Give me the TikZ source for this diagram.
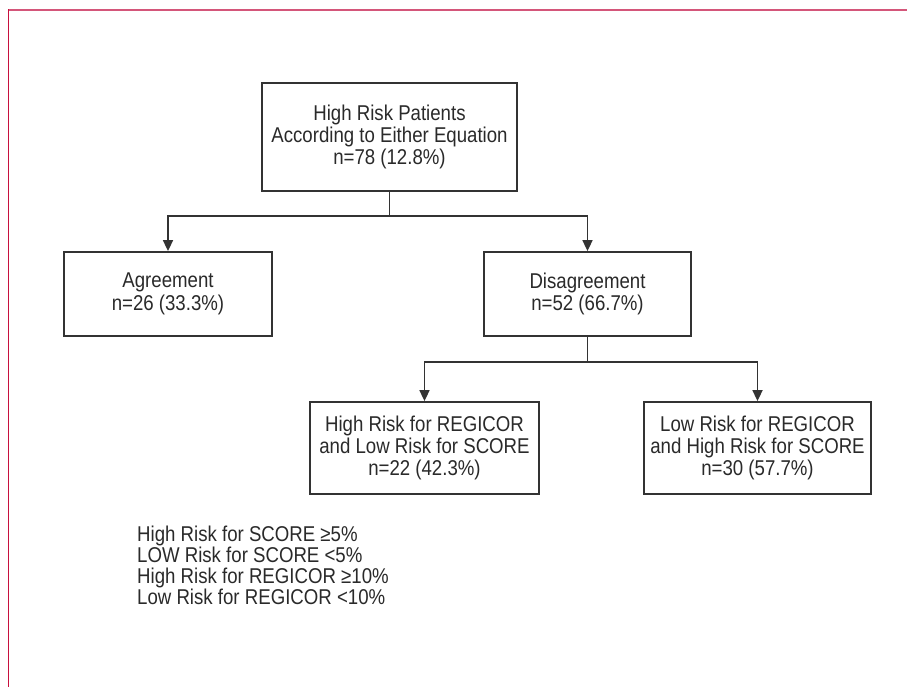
\documentclass[tikz,border=0pt]{standalone}
\usepackage{fontspec}
\setmainfont[FakeStretch=0.87]{Liberation Sans}
\usetikzlibrary{arrows.meta}
\definecolor{ink}{HTML}{2A2A2A}
\definecolor{lineink}{HTML}{333333}
\definecolor{frametop}{HTML}{D4567A}
\definecolor{frameleft}{HTML}{C8103E}
\tikzset{
  box/.style={draw=lineink, line width=1.8bp, inner sep=0pt, align=center,
    text=ink, font=\fontsize{21.5}{22.5}\selectfont},
  arr/.style={draw=lineink, line width=1.7bp, -{Triangle[length=11bp,width=10bp]}},
  legend/.style={anchor=north west, inner sep=0pt, align=left, text=ink,
    font=\fontsize{21.5}{21}\selectfont}
}
\begin{document}
\begin{tikzpicture}[x=1bp,y=-1bp]
\useasboundingbox (0,0) rectangle (907,687);
\fill[white] (0,0) rectangle (907,687);
% frame
\draw[frametop, line width=1.8bp] (8.5,10) -- (907,10);
\draw[frameleft, line width=1.8bp] (8.5,9.1) -- (8.5,687);
% nodes
\node[box, minimum width=255bp, minimum height=108bp] (top) at (389.5,137)
  {High Risk Patients\\According to Either Equation\\n=78 (12.8\%)};
\node[box, minimum width=208bp, minimum height=84bp] (agree) at (168,294)
  {Agreement\\n=26 (33.3\%)};
\node[box, minimum width=207bp, minimum height=84bp] (disagree) at (587.5,294)
  {Disagreement\\n=52 (66.7\%)};
\node[box, minimum width=229bp, minimum height=92bp] (bl) at (424.5,448)
  {High Risk for REGICOR\\and Low Risk for SCORE\\n=22 (42.3\%)};
\node[box, minimum width=227bp, minimum height=92bp] (br) at (757.5,448)
  {Low Risk for REGICOR\\and High Risk for SCORE\\n=30 (57.7\%)};
\node[legend] (leg) at (137,526)
  {High Risk for SCORE ≥5\%\\LOW Risk for SCORE <5\%\\High Risk for REGICOR ≥10\%\\Low Risk for REGICOR <10\%};
% connectors
\draw[arr] (top.south) -- ++(0,24) -| (agree.north);
\draw[arr] (top.south) -- ++(0,24) -| (disagree.north);
\draw[arr] (disagree.south) -- ++(0,25) -| (bl.north);
\draw[arr] (disagree.south) -- ++(0,25) -| (br.north);
\end{tikzpicture}
\end{document}
